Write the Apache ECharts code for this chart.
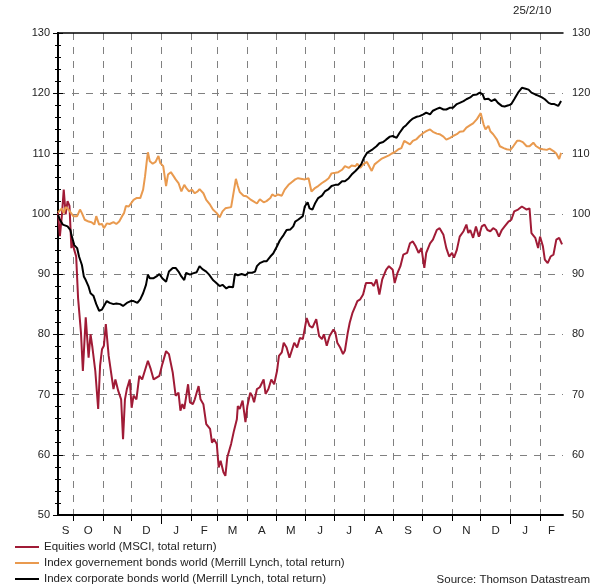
<!DOCTYPE html>
<html>
<head>
<meta charset="utf-8">
<script src="https://cdn.jsdelivr.net/npm/echarts@6.0.0/dist/echarts.min.js"></script>
<style>
  html, body { margin: 0; padding: 0; background: #fff; }
  #chart { width: 597px; height: 587px; }
</style>
</head>
<body>
<div id="chart"></div>
<script>
// x = days since 15/9/2008, chart ends 25/2/2010
const LAST_DAY = 528;
const monthStarts = [16, 47, 77, 108, 139, 167, 198, 228, 259, 289, 320, 351, 381, 412, 442, 473, 504];
const monthLetters = ["S", "O", "N", "D", "J", "F", "M", "A", "M", "J", "J", "A", "S", "O", "N", "D", "J", "F"];
const yearStarts = [108, 473];
const yTicks = [50, 130, 10];

const eqName = "Equities world (MSCI, total return)";
const govName = "Index governement bonds world (Merrill Lynch, total return)";
const corpName = "Index corporate bonds world (Merrill Lynch, total return)";

const eqDays = [0,2,4,6,8,10,12,14,15,17,19,21,24,26,29,32,34,36,39,42,44,46,48,50,53,55,58,60,63,66,68,70,72,75,77,79,82,85,88,90,94,97,100,106,109,113,116,120,123,126,128,130,132,136,138,141,143,147,149,152,155,159,161,163,166,168,170,173,175,177,181,184,187,188,190,193,196,198,201,203,205,208,211,215,217,220,223,226,229,231,234,236,239,242,244,247,250,253,256,260,263,266,270,273,276,278,281,284,288,290,292,295,298,300,303,305,308,311,313,316,319,322,324,328,330,333,336,339,343,346,350,352,355,358,361,365,368,371,374,377,380,383,385,389,392,396,399,403,406,409,412,414,417,420,424,427,429,431,434,437,440,443,446,449,452,455,458,461,464,467,471,474,477,481,485,487,490,493,495,499,502,504,507,509,512,515,518,521,524,527];
const eqVals = [100.1,96.3,99.6,104,99.9,102.1,101.3,94.3,95.4,94,92.9,86,80.3,73.9,82.8,76.1,80,77.8,73.9,67.6,74.8,77.5,78.1,81.7,76.4,76.4,70.9,72.5,70.6,69.2,62.6,69.2,70.9,72.5,67.8,69.8,69.2,73.1,72.5,72.3,75.6,74.2,72.5,73.1,75,77.2,76.7,73.6,69.8,70.3,67.3,68.4,67.6,71.7,68.7,68.4,69.2,71.4,69.2,68.4,65.1,64.3,62,62.6,61.8,57.9,59,57.1,56.5,59.6,61.8,64,65.9,68.1,67.6,69,65.4,68.1,70.3,69.8,68.7,70.9,71.2,72.5,70.1,70.9,72.5,71.7,73.9,76.4,77,78.6,77.8,76.1,76.4,78.6,77.8,79.4,79.2,82.7,81.4,81.1,82.5,79.7,79.2,80,78.1,79.7,80.8,80.3,78.6,77.8,76.7,77.3,80.3,81.9,83.6,84.7,85.5,85.8,86.6,88.5,88.2,88.5,88,89.1,86.6,89.1,90.7,91.3,90.7,88.5,90.2,91.3,93.2,93.5,95.1,95.4,94.6,93.5,94.3,91,93.5,95.1,95.7,97.3,97.6,96.5,94.3,92.9,93.5,92.7,94,96.2,97.1,98.2,96.8,97.3,96,97.9,96.2,97.9,98.2,97.3,97.1,97.6,97.3,96.2,97.3,97.9,98.7,99,100.4,100.7,101.2,100.9,100.7,100.9,96.8,96,94.3,96.2,94.6,92.4,91.8,92.9,93.2,95.7,96,94.9];

const govDays = [0,4,6,8,11,13,16,20,23,25,28,32,35,38,40,43,46,48,51,54,58,61,64,67,69,71,74,76,79,82,86,89,91,93,94,96,99,102,105,107,110,113,115,118,121,123,126,129,132,134,137,140,143,146,148,152,155,159,162,166,169,172,175,177,181,183,186,188,190,194,197,201,204,208,211,215,218,222,224,227,230,234,237,241,244,248,251,253,258,262,265,269,272,276,279,283,286,290,293,297,300,304,307,311,313,316,319,323,325,328,331,335,338,342,346,349,352,356,359,362,364,368,371,375,378,382,385,389,392,396,399,403,406,410,413,417,420,424,427,431,434,438,440,442,445,447,450,452,455,459,462,466,469,473,476,480,483,486,490,493,497,500,504,507,511,514,518,521,524,526];
const govVals = [100.2,100.9,100.1,101.1,100.7,100.9,99.6,99.6,100.7,100.1,99,98.7,98.6,98.2,99.6,98.2,98.3,97.6,98.4,98.3,98.6,98.3,98.7,99.6,100.1,101.3,101.2,100.9,102.3,102.6,102.6,104,106.2,109,110.2,108.7,108.3,108.6,109.6,108.4,107.9,104.6,106.5,106.9,106.2,105.7,105.1,103.7,104.8,104.3,103.7,104,103.4,103.7,104.1,103.4,102.3,101.5,100.7,100.1,99.4,100.4,100.9,100.6,101.1,101.2,105.8,104.6,103.6,103,102.9,102.4,102.1,101.7,102.4,101.9,102.1,102.6,103.2,102.9,103.2,103,104,104.8,105.2,105.7,105.9,106.2,105.7,105.9,103.7,104.3,104.6,105.1,105.4,105.9,106.7,106.8,106.9,107.3,107.9,107.6,108,107.9,108.3,107.6,108.2,108.6,108.7,107.1,108.2,108.7,109.1,109.4,109.7,110,110.2,110.7,110.9,112.1,111.8,111.5,112.1,112.4,112.9,113.4,113.7,114,113.6,113.3,113.2,112.8,112.3,112.6,112.9,113.2,113.6,113.7,114.3,114.7,115,115.7,116.2,116.7,114.8,114,114.6,113.7,113.2,112.3,111.2,110.9,110.7,110.6,111.2,112.1,112.1,111.9,111.2,111.2,111.8,111.2,110.8,110.7,110.6,110.8,110.4,110,109.1,110.1];

const corpDays = [0,2,5,7,10,13,14,17,20,22,25,27,29,32,34,37,40,43,46,48,51,54,58,61,65,68,72,76,79,83,86,89,92,94,96,100,103,106,109,113,116,120,123,126,129,132,134,138,141,145,148,151,155,158,162,165,169,172,176,179,183,185,188,192,196,199,203,206,208,211,215,218,222,225,229,232,236,239,243,246,248,251,253,256,258,261,263,266,269,272,276,279,283,286,290,293,297,300,304,307,311,314,317,320,323,326,329,333,336,340,343,347,350,354,357,361,364,368,371,375,378,382,385,389,392,396,399,403,406,410,413,417,420,424,427,431,434,438,441,444,446,450,453,457,460,464,467,471,474,477,481,485,488,492,495,499,502,506,509,513,516,519,523,526];
const corpVals = [99.8,99,98.2,98,97.9,97.3,96.5,94.8,94.3,92.9,91.5,89.6,89,87.9,86.8,86.4,85,83.9,84.1,84,85.5,85.2,85,85.1,85,84.7,85.2,85.5,85.5,85.2,85.8,86.8,88.2,89.9,89.3,89.3,89.6,90,89.3,88.7,90.4,91,91,90.4,89.6,89,90.2,89.9,90.1,90.3,91.3,90.8,90.4,89.9,89,88.6,88,88.2,87.6,87.9,87.8,90,89.8,90,89.8,90.2,90.2,90.4,91.3,91.8,92.1,92.1,92.9,93.4,94.6,95.6,96.5,97.3,97.4,97.9,98.7,99,99,99.6,101.2,101.9,100.9,100.7,101.8,102.6,103,103.7,104.1,104.6,104.8,104.8,105.4,105.4,105.9,106.5,107.1,107.6,108.2,109.3,110.1,110.4,110.7,111.2,111.7,111.9,112.3,112.8,112.9,112.6,113.4,114.3,114.7,115.4,115.8,116.1,116.2,116.5,116.8,116.5,117.1,117.4,117.6,117.3,117.3,117.6,117.6,118.2,118.4,118.7,119,119.3,119.7,119.8,120.1,119.8,119,119.1,118.7,119,118.4,117.9,117.8,118,118.2,119,120.1,120.9,120.8,120.6,120.1,119.8,119.6,119.3,119,118.4,118.2,118.2,117.9,118.7];

function zip(days, vals) {
  return days.map((d, i) => [d, vals[i]]);
}

// month letters sit in the middle of each month
const bounds = [0].concat(monthStarts, [LAST_DAY]);
const monthMids = monthLetters.map((m, i) => (bounds[i] + bounds[i + 1]) / 2);

const font = "Liberation Sans, Arial, sans-serif";
const dash = { color: "#808080", width: 1, type: [7, 7] };

function yAxisOpt(pos, withGrid) {
  return {
    type: "value",
    position: pos,
    min: yTicks[0],
    max: yTicks[1],
    interval: yTicks[2],
    axisLine: { show: true, lineStyle: { color: "#000", width: 2 } },
    axisTick: { show: true, length: 5, lineStyle: { color: "#000" } },
    minorTick: { show: true, splitNumber: 5, length: 3, lineStyle: { color: "#000" } },
    axisLabel: { color: "#222", fontSize: 11, fontFamily: font, margin: pos === "left" ? 8 : 9 },
    splitLine: { show: withGrid, showMinLine: false, showMaxLine: false, lineStyle: dash }
  };
}

// one legend per row so they stack like the original
function legendRow(name, top) {
  return {
    orient: "vertical",
    left: 10,
    top: top,
    icon: "rect",
    itemWidth: 24,
    itemHeight: 2,
    textStyle: { color: "#222", fontSize: 11.5, fontFamily: font },
    data: [name]
  };
}

const chart = echarts.init(document.getElementById("chart"));
chart.setOption({
  animation: false,
  color: ["#a01b36", "#e99a4f", "#000000"],
  grid: { left: 58, right: 34, top: 33, bottom: 72, containLabel: false },
  xAxis: [
    {
      type: "value",
      position: "bottom",
      min: 0,
      max: LAST_DAY,
      axisLine: { show: true, lineStyle: { color: "#000", width: 2 } },
      axisTick: { show: true, length: 6, customValues: monthStarts, lineStyle: { color: "#000" } },
      axisLabel: {
        customValues: monthMids,
        color: "#222",
        fontSize: 11.5,
        fontFamily: font,
        margin: 10,
        formatter: function (v) {
          const i = monthMids.indexOf(v);
          return i >= 0 ? monthLetters[i] : "";
        }
      },
      splitLine: { show: true, lineStyle: dash }
    },
    {
      // top border
      type: "value",
      position: "top",
      min: 0,
      max: LAST_DAY,
      z: 5,
      axisLine: { show: true, onZero: false, lineStyle: { color: "#000", width: 1.5 } },
      axisTick: { show: false },
      axisLabel: { show: false },
      splitLine: { show: false }
    },
    {
      // longer ticks at year change
      type: "value",
      position: "bottom",
      min: 0,
      max: LAST_DAY,
      axisLine: { show: false },
      axisTick: { show: true, length: 9, customValues: yearStarts, lineStyle: { color: "#000" } },
      axisLabel: { show: false },
      splitLine: { show: false }
    }
  ],
  yAxis: [yAxisOpt("left", true), yAxisOpt("right", false)],
  legend: [legendRow(eqName, 536), legendRow(govName, 552), legendRow(corpName, 568)],
  graphic: [
    { type: "text", left: 513, top: 5, style: { text: "25/2/10", fill: "#222", font: "11.5px " + font } },
    { type: "text", right: 7, top: 574, style: { text: "Source: Thomson Datastream", fill: "#222", font: "11.5px " + font } }
  ],
  series: [
    { name: eqName, type: "line", showSymbol: false, symbol: "none", lineStyle: { width: 2 }, data: zip(eqDays, eqVals) },
    { name: govName, type: "line", showSymbol: false, symbol: "none", lineStyle: { width: 2 }, data: zip(govDays, govVals) },
    { name: corpName, type: "line", showSymbol: false, symbol: "none", lineStyle: { width: 2 }, data: zip(corpDays, corpVals) }
  ]
});
</script>
</body>
</html>
